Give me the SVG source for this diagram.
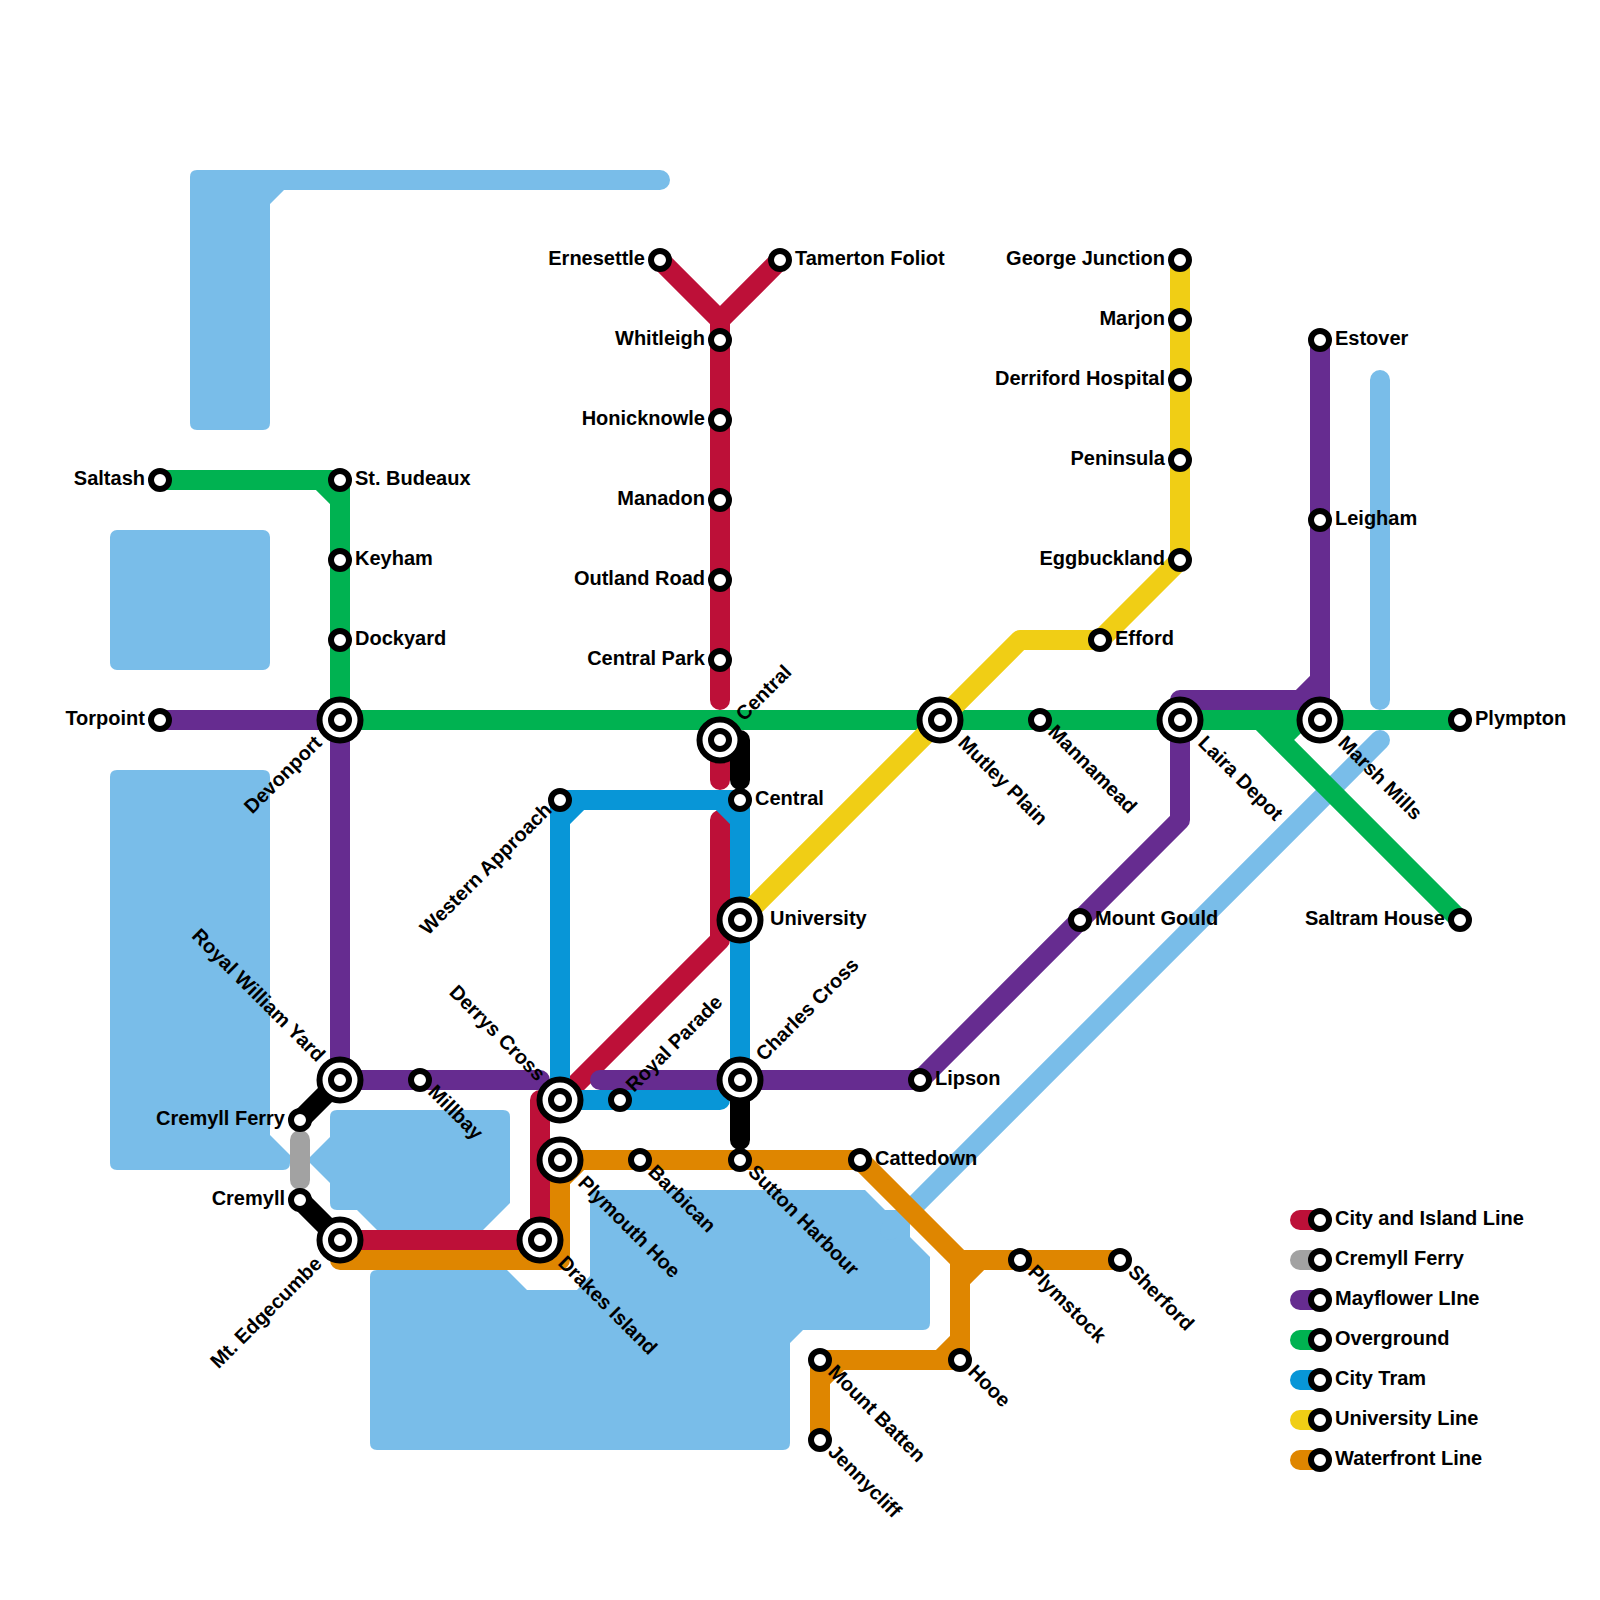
<svg xmlns="http://www.w3.org/2000/svg" width="1600" height="1600" viewBox="0 0 1600 1600">
<style>
.bg{fill:#fff}
.w{fill:#79bde9}
.wl{fill:none;stroke:#79bde9;stroke-width:20;stroke-linecap:round}
.l{fill:none;stroke-width:20;stroke-linecap:round;stroke-linejoin:round}
.red{stroke:#bd1038}.gray{stroke:#a2a2a2}.pur{stroke:#662c90}.grn{stroke:#00b251}.blu{stroke:#0896d7}.yel{stroke:#f0ce15}.org{stroke:#df8600}.blk{stroke:#000}
circle{fill:#fff;stroke:#000;stroke-width:6}
text{font-family:"Liberation Sans",Arial,sans-serif;font-weight:700;font-size:20px;fill:#000}
.e{text-anchor:end}
</style>
<defs>
<g id="st"><circle r="9"/></g>
<g id="ic"><circle r="20.5"/><circle r="9"/></g>
</defs>
<rect class="bg" width="1600" height="1600"/>
<g id="water">
<path class="w" d="M197 170H660A10 10 0 0 1 660 190H284L270 204V423Q270 430 263 430H197Q190 430 190 423V177Q190 170 197 170Z"/>
<rect class="w" x="110" y="530" width="160" height="140" rx="7"/>
<path class="w" d="M117 770H263Q270 770 270 777V1135L290 1155V1163Q290 1170 283 1170H117Q110 1170 110 1163V777Q110 770 117 770Z"/>
<path class="w" d="M337 1110H503Q510 1110 510 1117V1203L483 1230H377L357 1210H337Q330 1210 330 1203V1183L310 1163V1157L330 1137V1117Q330 1110 337 1110Z"/>
<path class="w" d="M377 1270H507L527 1290H577L590 1276V1197Q590 1190 597 1190H865L885 1210H910V1237L930 1257V1323Q930 1330 923 1330H803L790 1343V1443Q790 1450 783 1450H377Q370 1450 370 1443V1277Q370 1270 377 1270Z"/>
<path class="wl" d="M1380 380V700M1380 740L890 1230"/>
</g>
<g id="connectors">
<path class="l red" d="M660 260L720 320L780 260M720 320V700M720 740V780M720 820V940L560 1100M540 1100V1240H340"/>
<path class="l gray" d="M300 1140V1180"/>
<path class="l pur" d="M160 720H340V1080H540M600 1080H920L1180 820V700H1320M1320 720V340M1300 700L1320 680"/>
<path class="l grn" d="M160 480H340V720M320 480L340 500M340 720H1460M1260 720L1460 920M1280 740L1300 720"/>
<path class="l blu" d="M740 1080V800H560V1100H720M560 820L580 800M720 800L740 820"/>
<path class="l yel" d="M1180 260V560L1100 640H1020L740 920"/>
<path class="l org" d="M340 1260H560V1160H860L960 1260H1120M960 1260V1360H820V1440M560 1180L580 1160M960 1280L980 1260M960 1340L940 1360M840 1360L820 1380"/>
<path class="l blk" d="M340 1080L300 1120M300 1200L340 1240M740 740V780M740 1080V1140"/>
</g>
<g id="legend-lines">
<path class="l red" d="M1300 1220H1320"/>
<path class="l gray" d="M1300 1260H1320"/>
<path class="l pur" d="M1300 1300H1320"/>
<path class="l grn" d="M1300 1340H1320"/>
<path class="l blu" d="M1300 1380H1320"/>
<path class="l yel" d="M1300 1420H1320"/>
<path class="l org" d="M1300 1460H1320"/>
</g>
<g id="saltash"><use href="#st" x="160" y="480"/><text class="e" x="145" y="485">Saltash</text></g>
<g id="st-budeaux"><use href="#st" x="340" y="480"/><text x="355" y="485">St. Budeaux</text></g>
<g id="keyham"><use href="#st" x="340" y="560"/><text x="355" y="565">Keyham</text></g>
<g id="dockyard"><use href="#st" x="340" y="640"/><text x="355" y="645">Dockyard</text></g>
<g id="torpoint"><use href="#st" x="160" y="720"/><text class="e" x="145" y="725">Torpoint</text></g>
<g id="devonport"><use href="#ic" x="340" y="720"/><text class="e" transform="translate(323 744) rotate(-45)">Devonport</text></g>
<g id="ernesettle"><use href="#st" x="660" y="260"/><text class="e" x="645" y="265">Ernesettle</text></g>
<g id="tamerton-foliot"><use href="#st" x="780" y="260"/><text x="795" y="265">Tamerton Foliot</text></g>
<g id="whitleigh"><use href="#st" x="720" y="340"/><text class="e" x="705" y="345">Whitleigh</text></g>
<g id="honicknowle"><use href="#st" x="720" y="420"/><text class="e" x="705" y="425">Honicknowle</text></g>
<g id="manadon"><use href="#st" x="720" y="500"/><text class="e" x="705" y="505">Manadon</text></g>
<g id="outland-road"><use href="#st" x="720" y="580"/><text class="e" x="705" y="585">Outland Road</text></g>
<g id="central-park"><use href="#st" x="720" y="660"/><text class="e" x="705" y="665">Central Park</text></g>
<g id="central-north"><use href="#ic" x="720" y="740"/><text transform="translate(744 722) rotate(-45)">Central</text></g>
<g id="central-south"><use href="#st" x="740" y="800"/><text x="755" y="805">Central</text></g>
<g id="western-approach"><use href="#st" x="560" y="800"/><text class="e" transform="translate(553 811) rotate(-45)">Western Approach</text></g>
<g id="university"><use href="#ic" x="740" y="920"/><text x="770" y="925">University</text></g>
<g id="mutley-plain"><use href="#ic" x="940" y="720"/><text transform="translate(957 744) rotate(45)">Mutley Plain</text></g>
<g id="mannamead"><use href="#st" x="1040" y="720"/><text transform="translate(1047 733) rotate(45)">Mannamead</text></g>
<g id="efford"><use href="#st" x="1100" y="640"/><text x="1115" y="645">Efford</text></g>
<g id="george-junction"><use href="#st" x="1180" y="260"/><text class="e" x="1165" y="265">George Junction</text></g>
<g id="marjon"><use href="#st" x="1180" y="320"/><text class="e" x="1165" y="325">Marjon</text></g>
<g id="derriford-hospital"><use href="#st" x="1180" y="380"/><text class="e" x="1165" y="385">Derriford Hospital</text></g>
<g id="peninsula"><use href="#st" x="1180" y="460"/><text class="e" x="1165" y="465">Peninsula</text></g>
<g id="eggbuckland"><use href="#st" x="1180" y="560"/><text class="e" x="1165" y="565">Eggbuckland</text></g>
<g id="laira-depot"><use href="#ic" x="1180" y="720"/><text transform="translate(1197 744) rotate(45)">Laira Depot</text></g>
<g id="marsh-mills"><use href="#ic" x="1320" y="720"/><text transform="translate(1337 744) rotate(45)">Marsh Mills</text></g>
<g id="estover"><use href="#st" x="1320" y="340"/><text x="1335" y="345">Estover</text></g>
<g id="leigham"><use href="#st" x="1320" y="520"/><text x="1335" y="525">Leigham</text></g>
<g id="plympton"><use href="#st" x="1460" y="720"/><text x="1475" y="725">Plympton</text></g>
<g id="saltram-house"><use href="#st" x="1460" y="920"/><text class="e" x="1445" y="925">Saltram House</text></g>
<g id="mount-gould"><use href="#st" x="1080" y="920"/><text x="1095" y="925">Mount Gould</text></g>
<g id="lipson"><use href="#st" x="920" y="1080"/><text x="935" y="1085">Lipson</text></g>
<g id="charles-cross"><use href="#ic" x="740" y="1080"/><text transform="translate(764 1062) rotate(-45)">Charles Cross</text></g>
<g id="royal-parade"><use href="#st" x="620" y="1100"/><text transform="translate(634 1093) rotate(-45)">Royal Parade</text></g>
<g id="derrys-cross"><use href="#ic" x="560" y="1100"/><text class="e" transform="translate(537 1082) rotate(45)">Derrys Cross</text></g>
<g id="royal-william-yard"><use href="#ic" x="340" y="1080"/><text class="e" transform="translate(317 1063) rotate(45)">Royal William Yard</text></g>
<g id="millbay"><use href="#st" x="420" y="1080"/><text transform="translate(427 1093) rotate(45)">Millbay</text></g>
<g id="cremyll-ferry"><use href="#st" x="300" y="1120"/><text class="e" x="285" y="1125">Cremyll Ferry</text></g>
<g id="cremyll"><use href="#st" x="300" y="1200"/><text class="e" x="285" y="1205">Cremyll</text></g>
<g id="mt-edgecumbe"><use href="#ic" x="340" y="1240"/><text class="e" transform="translate(323 1265) rotate(-45)">Mt. Edgecumbe</text></g>
<g id="drakes-island"><use href="#ic" x="540" y="1240"/><text transform="translate(557 1264) rotate(45)">Drakes Island</text></g>
<g id="plymouth-hoe"><use href="#ic" x="560" y="1160"/><text transform="translate(577 1184) rotate(45)">Plymouth Hoe</text></g>
<g id="barbican"><use href="#st" x="640" y="1160"/><text transform="translate(647 1173) rotate(45)">Barbican</text></g>
<g id="sutton-harbour"><use href="#st" x="740" y="1160"/><text transform="translate(747 1173) rotate(45)">Sutton Harbour</text></g>
<g id="cattedown"><use href="#st" x="860" y="1160"/><text x="875" y="1165">Cattedown</text></g>
<g id="plymstock"><use href="#st" x="1020" y="1260"/><text transform="translate(1027 1273) rotate(45)">Plymstock</text></g>
<g id="sherford"><use href="#st" x="1120" y="1260"/><text transform="translate(1127 1273) rotate(45)">Sherford</text></g>
<g id="hooe"><use href="#st" x="960" y="1360"/><text transform="translate(967 1373) rotate(45)">Hooe</text></g>
<g id="mount-batten"><use href="#st" x="820" y="1360"/><text transform="translate(827 1373) rotate(45)">Mount Batten</text></g>
<g id="jennycliff"><use href="#st" x="820" y="1440"/><text transform="translate(827 1453) rotate(45)">Jennycliff</text></g>
<g id="legend">
<g id="key-city-island"><use href="#st" x="1320" y="1220"/><text x="1335" y="1225">City and Island Line</text></g>
<g id="key-cremyll-ferry"><use href="#st" x="1320" y="1260"/><text x="1335" y="1265">Cremyll Ferry</text></g>
<g id="key-mayflower"><use href="#st" x="1320" y="1300"/><text x="1335" y="1305">Mayflower LIne</text></g>
<g id="key-overground"><use href="#st" x="1320" y="1340"/><text x="1335" y="1345">Overground</text></g>
<g id="key-city-tram"><use href="#st" x="1320" y="1380"/><text x="1335" y="1385">City Tram</text></g>
<g id="key-university"><use href="#st" x="1320" y="1420"/><text x="1335" y="1425">University Line</text></g>
<g id="key-waterfront"><use href="#st" x="1320" y="1460"/><text x="1335" y="1465">Waterfront Line</text></g>
</g>
</svg>
